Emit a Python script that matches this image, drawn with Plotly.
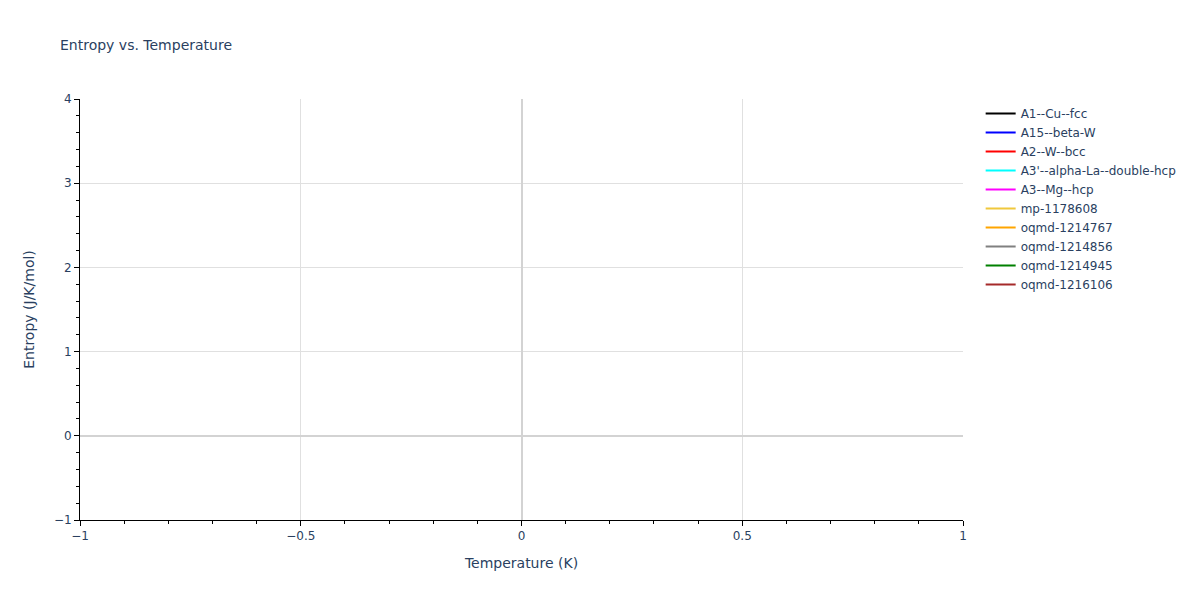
import plotly.graph_objects as go

# phase labels and line colours as drawn in the legend (no data points shown)
phases = ["A1--Cu--fcc", "A15--beta-W", "A2--W--bcc", "A3'--alpha-La--double-hcp",
          "A3--Mg--hcp", "mp-1178608", "oqmd-1214767", "oqmd-1214856",
          "oqmd-1214945", "oqmd-1216106"]
colors = ["black", "blue", "red", "cyan", "magenta", "#f0c83c", "orange",
          "gray", "green", "brown"]
# the curves hold no valid points, only the legend entries show
temperature = [None]
entropy = [None]

fig = go.Figure()
for name, c in zip(phases, colors):
    fig.add_trace(go.Scatter(x=temperature, y=entropy, mode="lines", name=name,
                             line=dict(color=c), showlegend=True))

axis_style = dict(showline=True, linecolor="black", linewidth=1, ticks="outside",
                  tickcolor="black", showgrid=True, gridcolor="#e0e0e0",
                  zeroline=True, zerolinecolor="#d3d3d3", zerolinewidth=2)

# page body has an 8px margin, so the figure is a bit smaller than the window
fig.update_layout(
    title=dict(text="Entropy vs. Temperature", x=52 / 1192, xanchor="left",
               y=1 - 37 / 592, yanchor="middle", font=dict(size=14)),
    width=1192, height=592,
    margin=dict(l=72, r=237, t=91, b=80),
    font=dict(family="Verdana, DejaVu Sans, sans-serif", color="#2a3f5f"),
    plot_bgcolor="white", paper_bgcolor="white",
    showlegend=True,
    xaxis=dict(title="Temperature (K)", range=[-1, 1], dtick=0.5,
               minor=dict(ticks="outside", dtick=0.1, tickcolor="black"), **axis_style),
    yaxis=dict(title="Entropy (J/K/mol)", range=[-1, 4], dtick=1,
               minor=dict(ticks="outside", dtick=0.2, tickcolor="black"), **axis_style),
)

fig.write_html("out.html")
